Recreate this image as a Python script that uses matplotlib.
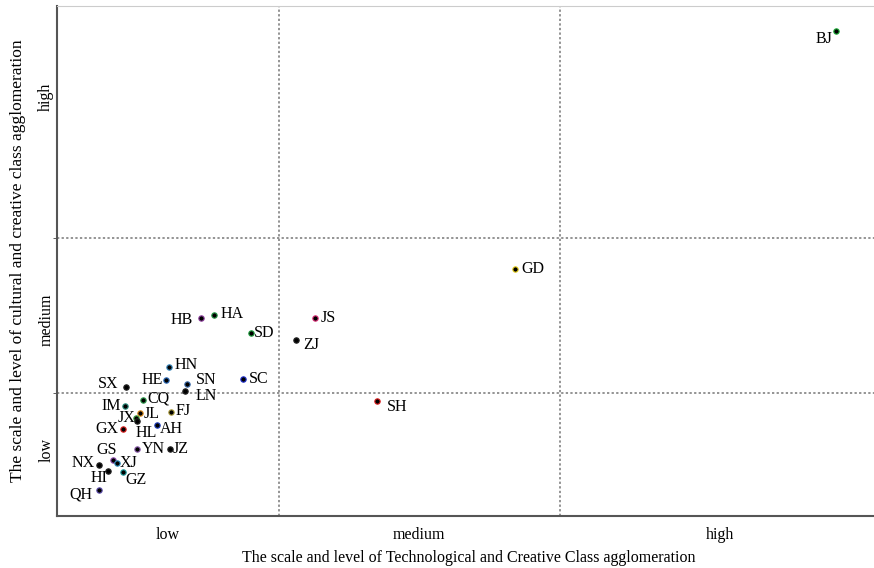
import matplotlib.pyplot as plt

plt.rcParams['font.family'] = ['Liberation Serif', 'DejaVu Serif']

# provinces, position on the two agglomeration scales (0-100)
names = ['BJ', 'GD', 'JS', 'ZJ', 'SH', 'HB', 'HA', 'SD', 'HN', 'HE',
         'SN', 'LN', 'SC', 'SX', 'CQ', 'IM', 'FJ', 'JL', 'JX', 'HL',
         'AH', 'GX', 'YN', 'JZ', 'GS', 'XJ', 'NX', 'HI', 'GZ', 'QH']
tech = [94.65, 55.65, 31.35, 29.04, 38.88, 17.50, 19.08, 23.57, 13.61, 13.24,
        15.80, 15.55, 22.60, 8.38, 10.45, 8.26, 13.85, 10.09, 9.60, 9.72,
        12.15, 8.02, 9.72, 13.73, 6.80, 7.29, 5.10, 6.20, 8.02, 5.10]
cult = [95.1, 48.4, 38.8, 34.5, 22.5, 38.8, 39.4, 35.9, 29.2, 26.7,
        25.9, 24.5, 26.9, 25.3, 22.7, 21.6, 20.4, 20.2, 19.2, 18.6,
        17.8, 17.1, 13.1, 13.1, 11.0, 10.4, 10.0, 8.8, 8.6, 5.1]

x_cuts = [26.97, 61.12]
y_cuts = [24.1, 54.5]
x_levels = ['low', 'medium', 'high']
y_levels = ['low', 'medium', 'high']

edge = {'BJ': '#1fb03a', 'GD': '#e8d020', 'JS': '#e0307a', 'ZJ': '#222222',
        'SH': '#e02020', 'HB': '#9040a0', 'HA': '#2a9a4a', 'SD': '#20a040',
        'HN': '#3a8ac0', 'HE': '#3070c0', 'SN': '#4070b0', 'LN': '#222222',
        'SC': '#2030d0', 'SX': '#222222', 'CQ': '#30a050', 'IM': '#309080',
        'FJ': '#b0a040', 'JL': '#e09020', 'JX': '#40a040', 'HL': '#222222',
        'AH': '#2040c0', 'GX': '#e02020', 'YN': '#9060b0', 'JZ': '#222222',
        'GS': '#9050b0', 'XJ': '#3090c0', 'NX': '#222222', 'HI': '#222222',
        'GZ': '#20a0a0', 'QH': '#6050b0'}

# label offsets in pixels and alignment
offs = {'BJ': (-4, -8, 'right'), 'GD': (6, 0, 'left'), 'JS': (6, 0, 'left'),
        'ZJ': (7, -5, 'left'), 'SH': (10, -6, 'left'), 'HB': (-8, -2, 'right'),
        'HA': (7, 1, 'left'), 'SD': (3, 0, 'left'), 'HN': (6, 2, 'left'),
        'HE': (-3, 0, 'right'), 'SN': (9, 4, 'left'), 'LN': (11, -5, 'left'),
        'SC': (6, 0, 'left'), 'SX': (-8, 3, 'right'), 'CQ': (4, 2, 'left'),
        'IM': (-4, 0, 'right'), 'FJ': (5, 1, 'left'), 'JL': (4, -1, 'left'),
        'JX': (-1, 0, 'right'), 'HL': (-1, -12, 'left'), 'AH': (3, -4, 'left'),
        'GX': (-5, 0, 'right'), 'YN': (5, 0, 'left'), 'JZ': (3, 0, 'left'),
        'GS': (4, 10, 'right'), 'XJ': (3, 0, 'left'), 'NX': (-4, 2, 'right'),
        'HI': (-1, -7, 'right'), 'GZ': (2, -8, 'left'), 'QH': (-6, -5, 'right')}

fig = plt.figure(figsize=(8.74, 5.68), dpi=100)
ax = fig.add_axes([57/874, 52/568, 823/874, 510/568])

for c in x_cuts:
    ax.axvline(c, color='#777777', ls=(0, (1.5, 1.5)), lw=1.1, zorder=1)
for c in y_cuts:
    ax.axhline(c, color='#777777', ls=(0, (1.5, 1.5)), lw=1.1, zorder=1)

for n, x, y in zip(names, tech, cult):
    ax.scatter(x, y, s=15, color='black', edgecolors=edge[n], linewidths=0.8, zorder=3)
    dx, dy, ha = offs[n]
    ax.annotate(n, (x, y), xytext=(dx, dy), textcoords='offset pixels',
                ha=ha, va='center', fontsize=11.5)

ax.set_xlim(0, 100)
ax.set_ylim(0, 100)

ax.set_xticks([13.5, 44.0, 80.6])
ax.set_xticklabels(x_levels, fontsize=11.5)
ax.set_yticks([12.9, 38.4, 82.2])
ax.set_yticklabels(y_levels, fontsize=11.5, rotation=90, va='center')
ax.tick_params(axis='x', length=0, pad=8)
ax.tick_params(axis='y', length=0, pad=2)
ax.set_yticks(y_cuts, minor=True)
ax.tick_params(axis='y', which='minor', length=3, direction='out', color='#444444')
ax.tick_params(axis='x', which='minor', length=0)

ax.spines['left'].set_color('#555555')
ax.spines['left'].set_linewidth(1.5)
ax.spines['bottom'].set_color('#555555')
ax.spines['bottom'].set_linewidth(1.5)
ax.spines['top'].set_color('#cccccc')
ax.spines['right'].set_visible(False)

ax.set_xlabel('The scale and level of Technological and Creative Class agglomeration',
              fontsize=11.5, labelpad=5)
ax.set_ylabel('The scale and level of cultural and creative class agglomeration',
              fontsize=12.5, labelpad=9)

fig.savefig('out.png', dpi=100)
